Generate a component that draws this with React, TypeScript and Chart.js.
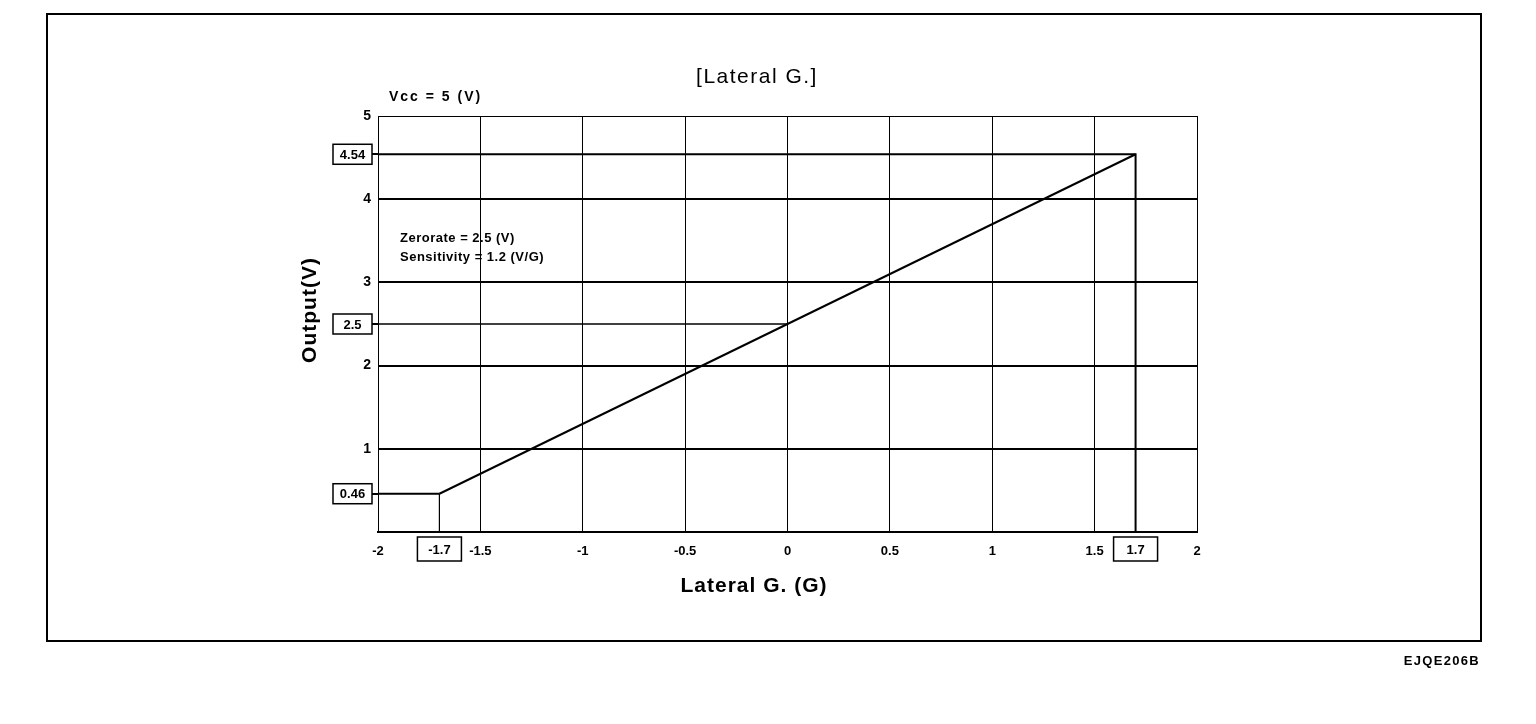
import React, { useEffect, useRef } from "react";
import { Chart, registerables } from "chart.js";

Chart.register(...registerables);

// ---- data ----
const xMin = -2;
const xMax = 2;
const xStep = 0.5;
const yMin = 0;
const yMax = 5;
const yStep = 1;
const satG = [-1.7, 1.7]; // saturation points (G)
const satV = [0.46, 4.54]; // saturation outputs (V)
const zeroRateV = 2.5;
const boxedY = [4.54, 2.5, 0.46];
const boxedX = [-1.7, 1.7];
const titleText = "[Lateral G.]";
const xTitle = "Lateral G. (G)";
const yTitle = "Output(V)";
const noteVcc = "Vcc = 5 (V)";
const noteLines = ["Zerorate = 2.5 (V)", "Sensitivity = 1.2 (V/G)"];
const codeText = "EJQE206B";

const FONT = "'Liberation Sans', Arial, Helvetica, sans-serif";

const fmt = (v: number) => String(v);

const overlayPlugin = {
  id: "overlay",
  afterDraw(chart: any) {
    const { ctx, chartArea, scales } = chart;
    const xs = scales.x;
    const ys = scales.y;
    ctx.save();
    ctx.strokeStyle = "#000";
    ctx.fillStyle = "#000";

    // outer frame
    ctx.lineWidth = 2;
    ctx.strokeRect(47, 14, 1434, 627);

    // boxed y values
    ctx.font = `bold 13px ${FONT}`;
    ctx.textAlign = "center";
    ctx.textBaseline = "middle";
    boxedY.forEach((v) => {
      const py = ys.getPixelForValue(v);
      const right = chartArea.left - 6;
      const w = 39;
      const h = 20;
      ctx.lineWidth = 1.5;
      ctx.strokeRect(right - w, py - h / 2, w, h);
      ctx.lineWidth = 2;
      ctx.beginPath();
      ctx.moveTo(right, Math.round(py));
      ctx.lineTo(chartArea.left, Math.round(py));
      ctx.stroke();
      ctx.fillText(fmt(v), right - w / 2, py + 1);
    });
    // boxed x values
    boxedX.forEach((v) => {
      const px = xs.getPixelForValue(v);
      const w = 44;
      const h = 24;
      const top = chartArea.bottom + 5;
      ctx.lineWidth = 1.5;
      ctx.strokeRect(px - w / 2, top, w, h);
      ctx.fillText(fmt(v), px, top + h / 2 + 1);
    });

    // title
    ctx.font = `21px ${FONT}`;
    (ctx as any).letterSpacing = "1.5px";
    ctx.textAlign = "center";
    ctx.textBaseline = "middle";
    ctx.fillText(titleText, 757, 77);

    // notes
    (ctx as any).letterSpacing = "2px";
    ctx.font = `bold 14px ${FONT}`;
    ctx.textAlign = "left";
    ctx.fillText(noteVcc, 389, 97);
    (ctx as any).letterSpacing = "0.5px";
    ctx.font = `bold 13px ${FONT}`;
    ctx.fillText(noteLines[0], 400, 238);
    ctx.fillText(noteLines[1], 400, 257);

    // axis titles
    ctx.font = `bold 21px ${FONT}`;
    (ctx as any).letterSpacing = "1px";
    ctx.textAlign = "center";
    ctx.fillText(xTitle, 754, 586);
    ctx.save();
    ctx.translate(310, 310);
    ctx.rotate(-Math.PI / 2);
    ctx.fillText(yTitle, 0, 0);
    ctx.restore();

    // code
    ctx.font = `bold 13px ${FONT}`;
    (ctx as any).letterSpacing = "1.3px";
    ctx.textAlign = "right";
    ctx.fillText(codeText, 1480, 661);
    ctx.restore();
  },
};

export default function App() {
  const ref = useRef<HTMLCanvasElement | null>(null);
  useEffect(() => {
    if (!ref.current) return;
    Chart.defaults.font.family = FONT;
    const line = (data: { x: number; y: number }[], width: number) => ({
      data,
      borderColor: "#000",
      borderWidth: width,
      pointRadius: 0,
      fill: false,
      tension: 0,
      clip: false as any,
    });
    const chart = new Chart(ref.current, {
      type: "line",
      data: {
        datasets: [
          line(
            [
              { x: xMin, y: satV[1] },
              { x: satG[1], y: satV[1] },
              { x: satG[1], y: yMin },
            ],
            2
          ),
          line(
            [
              { x: xMin, y: zeroRateV },
              { x: 0, y: zeroRateV },
            ],
            1.5
          ),
          line(
            [
              { x: xMin, y: satV[0] },
              { x: satG[0], y: satV[0] },
            ],
            2
          ),
          line(
            [
              { x: satG[0], y: satV[0] },
              { x: satG[0], y: yMin },
            ],
            1
          ),
          line(
            [
              { x: satG[0], y: satV[0] },
              { x: satG[1], y: satV[1] },
            ],
            2
          ),
        ],
      },
      options: {
        animation: false,
        responsive: true,
        maintainAspectRatio: false,
        layout: { padding: { left: 0, top: 116, right: 339, bottom: 0 } },
        plugins: {
          legend: { display: false },
          tooltip: { enabled: false },
          title: { display: false },
        },
        scales: {
          x: {
            type: "linear",
            min: xMin,
            max: xMax,
            ticks: {
              stepSize: xStep,
              color: "#000",
              padding: 12,
              font: { size: 13, weight: "bold" },
              maxRotation: 0,
              callback: (v: any) => fmt(Number(v)),
            },
            grid: { color: "#000", lineWidth: 1, drawTicks: false },
            border: { display: true, color: "#000", width: 2 },
            afterFit: (s: any) => {
              s.height = 192;
            },
          },
          y: {
            type: "linear",
            min: yMin,
            max: yMax,
            ticks: {
              stepSize: yStep,
              color: "#000",
              padding: 7,
              font: { size: 14, weight: "bold" },
              callback: (v: any) => (Number(v) === 0 ? "" : fmt(Number(v))),
            },
            grid: {
              color: "#000",
              drawTicks: false,
              lineWidth: (c: any) =>
                c.tick && c.tick.value > 0 && c.tick.value < yMax ? 2 : 1,
            },
            border: { display: true, color: "#000", width: 1 },
            afterFit: (s: any) => {
              s.width = 378;
            },
          },
        },
      } as any,
      plugins: [overlayPlugin],
    });
    return () => chart.destroy();
  }, []);
  return (
    <div
      style={{
        position: "fixed",
        left: 0,
        top: 0,
        width: 1536,
        height: 724,
        background: "#fff",
      }}
    >
      <canvas ref={ref} />
    </div>
  );
}
